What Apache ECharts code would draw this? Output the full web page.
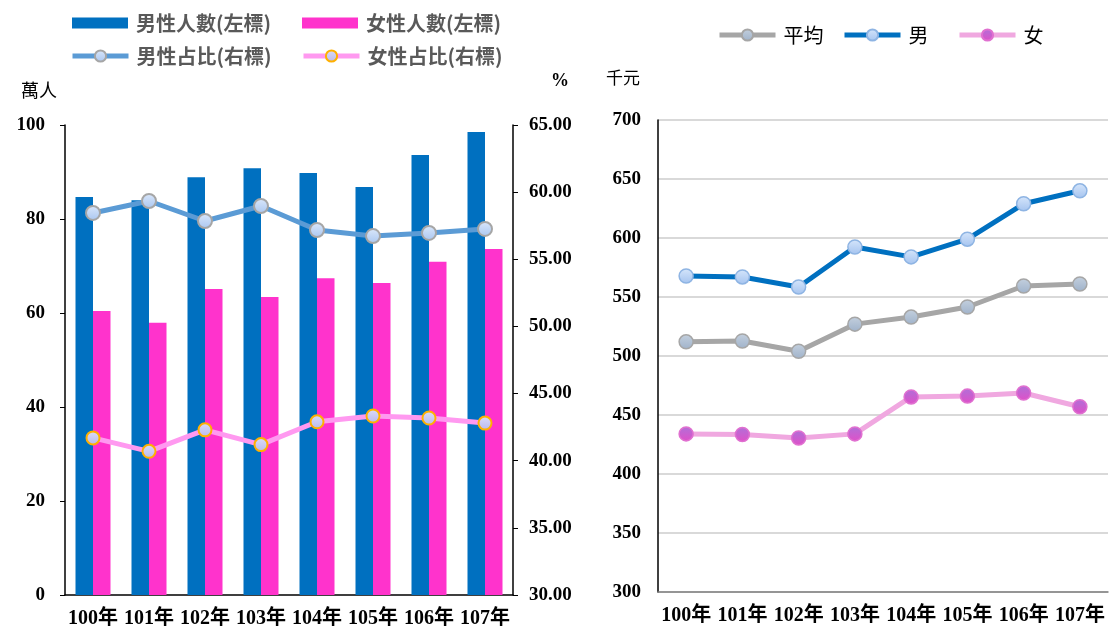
<!DOCTYPE html>
<html>
<head>
<meta charset="utf-8">
<script src="https://cdn.jsdelivr.net/npm/echarts@6/dist/echarts.min.js"></script>
<style>
  html, body { margin: 0; padding: 0; background: #fff; }
  #chart { width: 1109px; height: 630px; }
</style>
</head>
<body>
<div id="chart"></div>
<script>
// categories
const years = ["100年", "101年", "102年", "103年", "104年", "105年", "106年", "107年"];

// left panel: headcount (萬人) and share (%)
const maleCount = [84.7, 84.0, 88.9, 90.8, 89.8, 86.8, 93.6, 98.5];
const femaleCount = [60.4, 57.9, 65.1, 63.4, 67.4, 66.4, 70.9, 73.6];
const maleShare = [58.45, 59.34, 57.85, 58.97, 57.18, 56.73, 56.96, 57.26];
const femaleShare = [41.7, 40.7, 42.3, 41.2, 42.9, 43.33, 43.18, 42.8];

// right panel: salary (千元)
const avgPay = [512, 512.7, 504, 527, 533, 541.5, 559.3, 561];
const malePay = [567.8, 567, 558.5, 592.4, 584, 599, 629, 640];
const femalePay = [434, 433.5, 430.5, 434, 465.3, 466, 468.6, 457];

const serif = '"Liberation Serif", "Noto Sans CJK TC", serif';
const cjk = '"Noto Sans CJK TC", "Liberation Serif", serif';

function grad(top, bottom) {
  return new echarts.graphic.LinearGradient(0, 0, 0, 1, [
    { offset: 0, color: top },
    { offset: 1, color: bottom },
  ]);
}

const axisLabelStyle = {
  color: "#000",
  fontFamily: serif,
  fontWeight: "bold",
  fontSize: 19,
};

const leftLegendText = { fontFamily: cjk, fontSize: 20, fontWeight: "bold", color: "#595959", padding: [0, 0, 0, 3] };
const rightLegendText = { fontFamily: cjk, fontSize: 20, color: "#000", padding: [0, 0, 0, 3] };

function legendAt(name, left, top, opts) {
  return Object.assign(
    {
      data: [name],
      left: left,
      top: top,
      itemWidth: 56,
      itemHeight: 14,
      itemGap: 0,
      padding: 0,
      lineStyle: { width: 5 },
    },
    opts || {}
  );
}

const option = {
  animation: false,
  backgroundColor: "#fff",
  legend: [
    legendAt("男性人數(左標)", 72, 13, { icon: "rect", itemHeight: 11, textStyle: leftLegendText }),
    legendAt("女性人數(左標)", 302, 13, { icon: "rect", itemHeight: 11, textStyle: leftLegendText }),
    legendAt("男性占比(右標)", 70, 46, { textStyle: leftLegendText }),
    legendAt("女性占比(右標)", 301, 46, { textStyle: leftLegendText }),
    legendAt("平均", 717, 25, { textStyle: rightLegendText }),
    legendAt("男", 842, 25, { textStyle: rightLegendText }),
    legendAt("女", 957, 25, { textStyle: rightLegendText }),
  ],
  grid: [
    { left: 65, right: 596, top: 125, bottom: 35 },
    { left: 658, right: 1, top: 120, bottom: 38 },
  ],
  xAxis: [
    {
      gridIndex: 0,
      type: "category",
      data: years,
      axisLine: { lineStyle: { color: "#000", width: 1.5 } },
      axisTick: { show: false },
      axisLabel: Object.assign({ margin: 14, interval: 0 }, axisLabelStyle, { fontSize: 20 }),
    },
    {
      gridIndex: 1,
      type: "category",
      data: years,
      boundaryGap: true,
      axisLine: { lineStyle: { color: "#7f7f7f", width: 1.5 } },
      axisTick: { show: false },
      axisLabel: Object.assign({ margin: 14, interval: 0 }, axisLabelStyle, { fontSize: 20 }),
    },
  ],
  yAxis: [
    {
      gridIndex: 0,
      type: "value",
      min: 0,
      max: 100,
      interval: 20,
      name: "萬人",
      nameLocation: "end",
      nameGap: 26,
      nameTextStyle: { fontFamily: cjk, fontSize: 18, color: "#000", align: "right", padding: [0, 8, 0, 0] },
      axisLine: { show: true, lineStyle: { color: "#000", width: 1.5 } },
      axisTick: { show: true, inside: false, length: 5, lineStyle: { color: "#000" } },
      splitLine: { show: false },
      axisLabel: Object.assign({ margin: 20 }, axisLabelStyle),
    },
    {
      gridIndex: 0,
      type: "value",
      position: "right",
      min: 30,
      max: 65,
      interval: 5,
      name: "%",
      nameLocation: "end",
      nameGap: 35,
      nameTextStyle: { fontFamily: serif, fontSize: 18, fontWeight: "bold", color: "#000", align: "left", padding: [0, 0, 0, 38] },
      axisLine: { show: true, lineStyle: { color: "#000", width: 1.5 } },
      axisTick: { show: true, inside: false, length: 5, lineStyle: { color: "#000" } },
      splitLine: { show: false },
      axisLabel: Object.assign({ margin: 16, formatter: (v) => v.toFixed(2) }, axisLabelStyle),
    },
    {
      gridIndex: 1,
      type: "value",
      min: 300,
      max: 700,
      interval: 50,
      name: "千元",
      nameLocation: "end",
      nameGap: 34,
      nameTextStyle: { fontFamily: cjk, fontSize: 17, color: "#000", align: "right", padding: [0, 18, 0, 0] },
      axisLine: { show: true, lineStyle: { color: "#000", width: 1.5 } },
      axisTick: { show: false },
      splitLine: { show: true, lineStyle: { color: "#d9d9d9", width: 2 } },
      axisLabel: Object.assign({ margin: 17 }, axisLabelStyle),
    },
  ],
  series: [
    {
      name: "男性人數(左標)",
      type: "bar",
      xAxisIndex: 0,
      yAxisIndex: 0,
      data: maleCount,
      barWidth: 17.5,
      barGap: "0%",
      itemStyle: { color: "#0070c0" },
    },
    {
      name: "女性人數(左標)",
      type: "bar",
      xAxisIndex: 0,
      yAxisIndex: 0,
      data: femaleCount,
      barWidth: 17.5,
      barGap: "0%",
      itemStyle: { color: "#ff33cc" },
    },
    {
      name: "男性占比(右標)",
      type: "line",
      xAxisIndex: 0,
      yAxisIndex: 1,
      data: maleShare,
      symbol: "circle",
      symbolSize: 14,
      lineStyle: { color: "#5b9bd5", width: 5 },
      itemStyle: { color: grad("#dbe8fb", "#a9c6f0"), borderColor: "#a6a6a6", borderWidth: 2 },
    },
    {
      name: "女性占比(右標)",
      type: "line",
      xAxisIndex: 0,
      yAxisIndex: 1,
      data: femaleShare,
      symbol: "circle",
      symbolSize: 13,
      lineStyle: { color: "#ff99f0", width: 5 },
      itemStyle: { color: grad("#dcdcf8", "#b8b8ec"), borderColor: "#ffb000", borderWidth: 2 },
    },
    {
      name: "平均",
      type: "line",
      xAxisIndex: 1,
      yAxisIndex: 2,
      data: avgPay,
      symbol: "circle",
      symbolSize: 14,
      lineStyle: { color: "#a6a6a6", width: 5 },
      itemStyle: { color: grad("#c4d0de", "#9fb2ca"), borderColor: "#a6a6a6", borderWidth: 1.5 },
    },
    {
      name: "男",
      type: "line",
      xAxisIndex: 1,
      yAxisIndex: 2,
      data: malePay,
      symbol: "circle",
      symbolSize: 14,
      lineStyle: { color: "#0070c0", width: 5 },
      itemStyle: { color: grad("#d6e6fb", "#a4c3ef"), borderColor: "#8eb4e3", borderWidth: 1.5 },
    },
    {
      name: "女",
      type: "line",
      xAxisIndex: 1,
      yAxisIndex: 2,
      data: femalePay,
      symbol: "circle",
      symbolSize: 14,
      lineStyle: { color: "#f0a8e0", width: 5 },
      itemStyle: { color: grad("#b070d8", "#e050c8"), borderColor: "#e070d0", borderWidth: 1.5 },
    },
  ],
};

const chart = echarts.init(document.getElementById("chart"));
chart.setOption(option);
</script>
</body>
</html>
